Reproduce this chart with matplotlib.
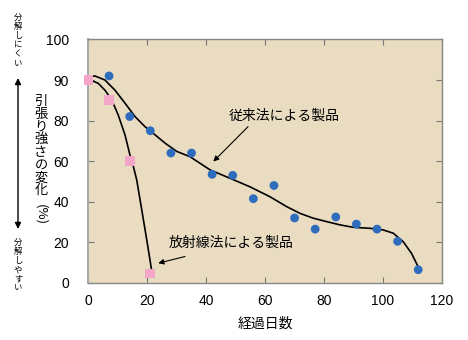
import numpy as np
import matplotlib
matplotlib.use("Agg")
import matplotlib.pyplot as plt
from matplotlib.scale import FuncScale

plt.rcParams['font.family'] = ['Liberation Sans', 'Noto Sans CJK JP', 'DejaVu Sans']
CJK = ['Noto Sans CJK JP', 'DejaVu Sans']

# y-axis tick values (evenly spaced on the axis)
y_ticks = [0, 20, 40, 60, 80, 90, 100]
x_ticks = [0, 20, 40, 60, 80, 100, 120]

# conventional product: measured points
conv_days = [7, 14, 21, 28, 35, 42, 49, 56, 63, 70, 77, 84, 91, 98, 105, 112]
conv_vals = [91, 81, 75, 64, 64, 53.5, 53, 41.5, 48, 32, 26.5, 32.5, 29, 26.5, 20.5, 6.5]

# radiation-method product: measured points
rad_days = [0, 7, 14, 21]
rad_vals = [90, 85, 60, 4.6]

# fitted trend curves
conv_fit_x = [0, 2.2, 5.6, 9.0, 12.4, 15.8, 19.2, 22.6, 26.1, 30.0, 34.5, 41.3, 48.0,
              54.8, 61.6, 67.3, 71.8, 76.3, 80.9, 85.4, 89.9, 95.6, 100.1, 103.5,
              106.9, 109.7, 112.5]
conv_fit_y = [90.8, 91.0, 90.0, 87.5, 84.3, 81.0, 77.0, 73.0, 68.8, 64.8, 62.2, 55.7, 51.6,
              47.4, 42.5, 37.6, 34.3, 31.9, 30.2, 28.6, 27.4, 26.9, 26.1, 24.5,
              20.3, 14.6, 6.4]
rad_fit_x = [0, 3.3, 5.6, 7.9, 10.1, 12.4, 14.1, 14.7, 16.4, 18.1, 19.8, 20.9, 21.7]
rad_fit_y = [90.2, 89.2, 87.5, 85.1, 81.4, 73.0, 63.0, 60.6, 50.7, 36.0, 21.2, 11.3, 3.9]

tick_pos = np.arange(len(y_ticks), dtype=float)


def fwd(v):
    return np.interp(v, y_ticks, tick_pos)


def inv(p):
    return np.interp(p, tick_pos, y_ticks)


fig = plt.figure(figsize=(4.68, 3.40), dpi=100)
ax = fig.add_axes([0.189, 0.168, 0.755, 0.716])
ax.set_facecolor('#E9DCC1')
ax.set_yscale(FuncScale(ax.yaxis, (fwd, inv)))

ax.plot(conv_fit_x, conv_fit_y, color='black', lw=1.2, zorder=2,
        solid_joinstyle='round')
ax.plot(rad_fit_x, rad_fit_y, color='black', lw=1.2, zorder=2,
        solid_joinstyle='round')
ax.scatter(conv_days, conv_vals, s=40, color='#2E6DBE', edgecolors='none', zorder=3)
ax.scatter(rad_days, rad_vals, s=50, marker='s', color='#F4A6C8', edgecolors='none',
           zorder=3, clip_on=False)

ax.set_xlim(0, 120)
ax.set_ylim(0, 100)
ax.set_xticks(x_ticks)
ax.set_yticks(y_ticks)
ax.set_xticklabels([str(t) for t in x_ticks])
ax.set_yticklabels([str(t) for t in y_ticks])
ax.yaxis.set_minor_locator(matplotlib.ticker.NullLocator())
ax.tick_params(direction='in', length=4, width=0.8, color='#777777',
               top=True, right=True, labelsize=10, pad=8)
ax.tick_params(axis='y', pad=14)
for s in ax.spines.values():
    s.set_color('#888888')
    s.set_linewidth(1.0)
ax.spines['left'].set_color('#AAAAAA')
ax.spines['left'].set_linewidth(1.5)

ax.set_xlabel('経過日数', fontsize=10, family=CJK, labelpad=6)

arrow = dict(arrowstyle='-|>', lw=0.8, color='black', mutation_scale=8,
             shrinkA=0, shrinkB=0)
ax.text(66.5, 81.1, '従来法による製品', fontsize=10, family=CJK,
        ha='center', va='center')
ax.annotate('', xy=(42.4, 59.8), xytext=(54.2, 77), arrowprops=arrow)
ax.text(48.3, 19.6, '放射線法による製品', fontsize=10, family=CJK,
        ha='center', va='center')
ax.annotate('', xy=(23.7, 9.7), xytext=(32.8, 13), arrowprops=arrow)

# vertical y-axis title, characters stacked upright
H = 340.0
title_chars = '引張り強さの変化'
for i, ch in enumerate(title_chars):
    y = 101.5 + i * 12.75
    fig.text(41 / 468, 1 - y / H, ch, fontsize=9.5, family=CJK,
             ha='center', va='center')
fig.text(41 / 468, 1 - 215 / H, '(%)', fontsize=9.5, family=CJK, rotation=-90,
         ha='center', va='center')

# side notes with a double-headed arrow
top_note = '分解しにくい'
bot_note = '分解しやすい'
for i, ch in enumerate(top_note):
    fig.text(18 / 468, 1 - (17 + i * 9.2) / H, ch, fontsize=6, family=CJK,
             ha='center', va='center')
for i, ch in enumerate(bot_note):
    fig.text(18 / 468, 1 - (242 + i * 9.2) / H, ch, fontsize=6, family=CJK,
             ha='center', va='center')
fig.patches.append(matplotlib.patches.FancyArrowPatch(
    (18, H - 78), (18, H - 229), transform=None, arrowstyle='<|-|>',
    mutation_scale=9, lw=1.0, color='black', shrinkA=0, shrinkB=0))

fig.savefig('out.png', dpi=100)
